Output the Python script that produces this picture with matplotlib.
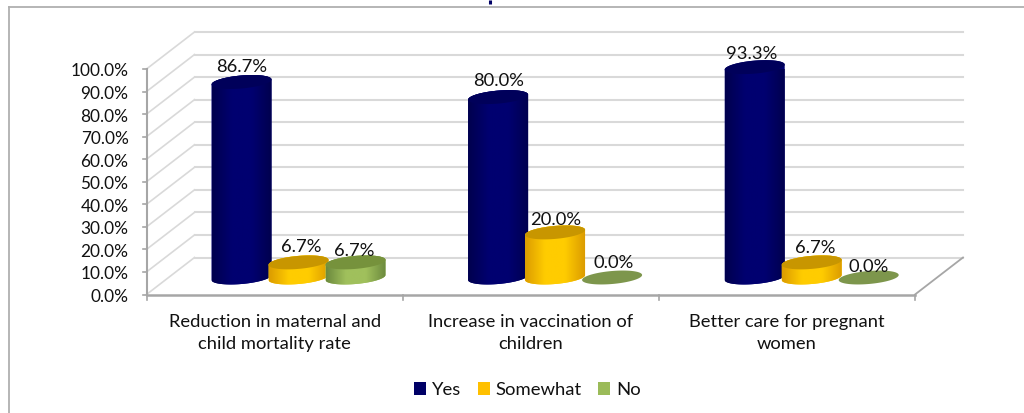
import numpy as np
import matplotlib
matplotlib.use("Agg")
import matplotlib.pyplot as plt
from matplotlib.colors import LinearSegmentedColormap
from matplotlib.patches import Patch, Polygon

categories = ["Reduction in maternal and\nchild mortality rate",
              "Increase in vaccination of\nchildren",
              "Better care for pregnant\nwomen"]
series_names = ["Yes", "Somewhat", "No"]
yes_values = [86.7, 80.0, 93.3]
somewhat_values = [6.7, 20.0, 6.7]
no_values = [6.7, 0.0, 0.0]
y_ticks = list(range(0, 101, 10))

W, H = 1024, 413
X0, X1, Y0, Y100 = 146.5, 915.0, 294.5, 69.0
DEPTH_X, DEPTH_Y = 48.0, 37.0

# Colours per series: legend, side edge, side centre, top cap
palette = {
    "Yes": ("#000066", "#00004e", "#000070", "#00005a"),
    "Somewhat": ("#ffc000", "#dc9c00", "#ffcc00", "#c89600"),
    "No": ("#9bbb59", "#6c8a3e", "#a0c05c", "#76923c"),
}
FLAT_NO = "#7d964c"

plt.rcParams["font.family"] = ["Lato", "DejaVu Sans"]
fig = plt.figure(figsize=(W / 100, H / 100), dpi=100)
ax = fig.add_axes([X0 / W, 1 - Y0 / H, (X1 - X0) / W, (Y0 - Y100) / H])
ax.set_xlim(0, 3)
ax.set_ylim(0, 100)
ax.axis("off")

px_x = 3 / (X1 - X0)        # category units per pixel
px_y = 100 / (Y0 - Y100)    # percent per pixel
dx, dy = DEPTH_X * px_x, DEPTH_Y * px_y

GRID = "#d9d9d9"
AXIS = "#a6a6a6"
TXT = "#111111"

# Back wall gridlines and the left wall diagonals
for v in y_ticks:
    ax.plot([dx, 3 + dx], [v + dy, v + dy], color=GRID, lw=1.5, clip_on=False, zorder=1)
    ax.plot([0, dx], [v, v + dy], color=GRID, lw=1.2, clip_on=False, zorder=1)
    ax.plot([-4 * px_x, 0], [v, v], color=AXIS, lw=1.2, clip_on=False, zorder=2)
    ax.text(-18 * px_x, v - 2.5 * px_y, f"{v:.1f}%", ha="right", va="center",
            fontsize=12.4, color=TXT)

# Front floor edge, vertical axis, right floor edge
ax.plot([0, 0], [0, 100], color=AXIS, lw=1.5, clip_on=False, zorder=2)
ax.plot([0, 3], [0, 0], color=AXIS, lw=1.8, clip_on=False, zorder=2)
ax.plot([3, 3 + dx], [0, dy], color=AXIS, lw=1.3, clip_on=False, zorder=2)
for i in range(4):
    ax.plot([i, i], [0, -5.5 * px_y], color=AXIS, lw=1.2, clip_on=False, zorder=2)

for i, name in enumerate(categories):
    ax.text(i + 0.5, -19.5 * px_y, name, ha="center", va="top", fontsize=13.2,
            color=TXT, linespacing=1.45)

A, B, K = 30.0 * px_x, 6.5 * px_y, 2.5 / 30
SLOPE = K * (px_y / px_x)
t = np.linspace(0, 2 * np.pi, 121)
lower = np.linspace(np.pi, 2 * np.pi, 61)
upper = np.linspace(0, np.pi, 61)


def ring(cx, cy, angles):
    return np.c_[cx + A * np.cos(angles),
                 cy + B * np.sin(angles) + SLOPE * A * np.cos(angles)]


def cylinder(cx, base, value, colours, z):
    _, edge, mid, cap = colours
    if value == 0:
        ax.add_patch(Polygon(ring(cx, base, t), fc=FLAT_NO, ec="none", clip_on=False, zorder=z))
        return
    outline = np.vstack([ring(cx, base, lower), ring(cx, base + value, upper)])
    body = Polygon(outline, fc=mid, ec="none", clip_on=False, zorder=z,
                   transform=ax.transData)
    ax.add_patch(body)
    cmap = LinearSegmentedColormap.from_list("side", [edge, mid, mid, edge])
    shade = ax.imshow(np.linspace(0, 1, 128)[None, :], cmap=cmap, aspect="auto",
                      extent=(cx - A, cx + A, base - 10, base + value + 10),
                      zorder=z + 0.1, clip_on=True)
    shade.set_clip_path(body)
    ax.add_patch(Polygon(ring(cx, base + value, t), fc=cap, ec="none",
                         clip_on=False, zorder=z + 0.2))


# Nudge of each value label from its default spot, in pixels (right, up)
label_nudge = {(0, 0): (0.5, 0), (0, 1): (3, 0.5), (0, 2): (-1, -4),
               (1, 0): (0, 1), (1, 1): (0, -3), (1, 2): (2, 0),
               (2, 0): (-3, -2), (2, 1): (3, -0.7), (2, 2): (0, -4)}

series_values = [yes_values, somewhat_values, no_values]
BASE = 17.0 * px_y          # cylinders stand halfway into the floor depth
GROUP0 = 241.5
GROUP_STEP = 256.6
SERIES_STEP = 57.0
for s, (name, values) in enumerate(zip(series_names, series_values)):
    for g, value in enumerate(values):
        cx = (GROUP0 + g * GROUP_STEP + s * SERIES_STEP - X0) * px_x
        cylinder(cx, BASE, value, palette[name], 5 + s)
        nx, ny = label_nudge[(g, s)]
        ax.annotate(f"{value:.1f}%", (cx, BASE + value),
                    xytext=(nx * 0.72, (15 + ny) * 0.72),
                    textcoords="offset points", ha="center", va="center",
                    fontsize=13.2, color=TXT, zorder=20, annotation_clip=False)

ax.set_xlim(0, 3)
ax.set_ylim(0, 100)

# Outer chart frame, open on the right and at the bottom
for xs, ys in [((8.5, 8.5), (413, 6.8)), ((8.5, 1024), (6.8, 6.8))]:
    fig.add_artist(plt.Line2D([x / W for x in xs], [1 - y / H for y in ys],
                              color="#b0b0b0", lw=1.3))

# Descender of the heading that runs off the top edge
fig.add_artist(plt.Line2D([490 / W, 490 / W], [1, 1 - 3.5 / H], color="#000066", lw=2.2,
                          solid_capstyle="butt"))

fig.legend(handles=[Patch(fc=palette[n][0], ec="none") for n in series_names],
           labels=series_names, loc="center", bbox_to_anchor=(527.5 / W, 1 - 390 / H),
           ncol=3, frameon=False, fontsize=13.3, handlelength=0.65, handleheight=0.65,
           handletextpad=0.32, columnspacing=0.9, labelcolor=TXT)

fig.savefig("out.png", dpi=100, facecolor="white")
